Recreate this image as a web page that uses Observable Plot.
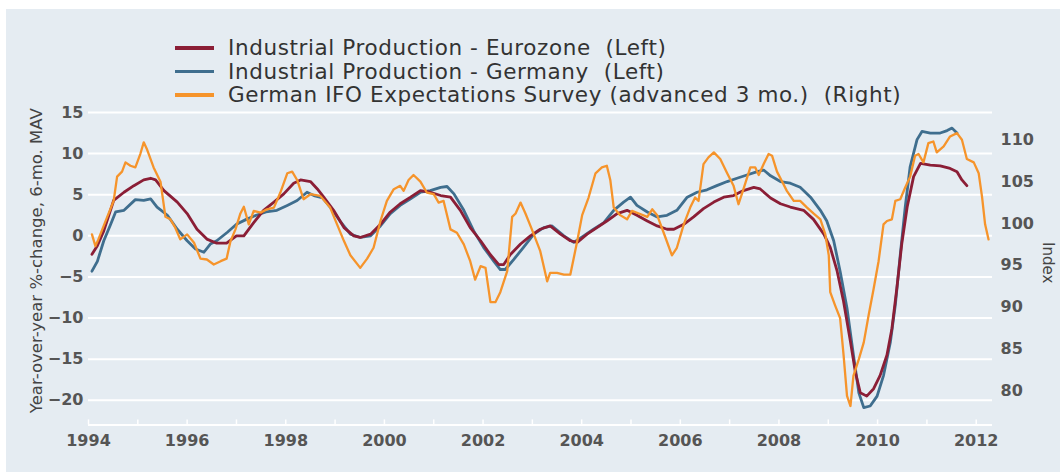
<!DOCTYPE html>
<html><head><meta charset="utf-8">
<script src="https://cdn.jsdelivr.net/npm/d3@7"></script>
<script src="https://cdn.jsdelivr.net/npm/@observablehq/plot@0.6"></script>
<style>
html,body{margin:0;padding:0;background:#fff;}
#wrap{position:relative;width:1060px;height:475px;overflow:hidden;font-family:"DejaVu Sans",sans-serif;}
#panel{position:absolute;left:6px;top:9px;right:0;bottom:3px;background:#e5ecf2;}
#legend{position:absolute;left:175px;top:36px;}
.row{display:flex;align-items:center;height:23.5px;}
.sw{width:39px;height:3.5px;margin-right:14px;}
.lbl{font-size:21.5px;letter-spacing:0.6px;color:#333;white-space:pre;}
#chart{position:absolute;left:0;top:104px;}
</style></head>
<body><div id="wrap"><div id="panel"></div><div id="legend"></div><div id="chart"></div></div>
<script>
// ---- Data (decimal years) ----
const seriesNames = ["Industrial Production - Eurozone  (Left)", "Industrial Production - Germany  (Left)", "German IFO Expectations Survey (advanced 3 mo.)  (Right)"];
const seriesColors = ["#8b1e36", "#3f6e8e", "#f6942b"];

const euroT = [1994.07,1994.18,1994.31,1994.51,1994.72,1994.92,1995.12,1995.26,1995.36,1995.53,1995.8,1996.0,1996.2,1996.4,1996.6,1996.8,1997.0,1997.15,1997.35,1997.55,1997.76,1997.96,1998.16,1998.3,1998.5,1998.64,1998.77,1998.97,1999.18,1999.38,1999.51,1999.72,1999.92,2000.12,2000.32,2000.53,2000.73,2000.93,2001.14,2001.34,2001.54,2001.74,2001.95,2002.15,2002.32,2002.42,2002.55,2002.76,2002.96,2003.16,2003.36,2003.57,2003.77,2003.91,2004.11,2004.31,2004.51,2004.72,2004.92,2005.12,2005.33,2005.53,2005.73,2005.87,2006.07,2006.27,2006.47,2006.68,2006.88,2007.08,2007.28,2007.49,2007.62,2007.83,2008.03,2008.23,2008.5,2008.7,2008.91,2009.04,2009.18,2009.31,2009.45,2009.55,2009.65,2009.78,2009.92,2010.05,2010.19,2010.29,2010.39,2010.49,2010.6,2010.73,2010.87,2011.07,2011.27,2011.47,2011.61,2011.71,2011.81];
const euroV = [-2.25,-1.2,0.6,4.3,5.3,6.1,6.8,7.0,6.8,5.5,4.1,2.7,0.8,-0.4,-0.9,-0.9,0.0,0.0,1.6,3.1,4.1,5.1,6.4,6.8,6.6,5.7,4.7,3.1,1.0,0.0,-0.2,0.2,1.4,2.9,3.9,4.7,5.5,5.3,4.9,4.7,3.1,1.0,-0.6,-2.3,-3.5,-3.5,-2.3,-1.0,0.0,0.8,1.2,0.2,-0.6,-0.8,0.2,1.0,1.8,2.7,3.1,2.5,1.8,1.2,0.8,0.8,1.4,2.3,3.3,4.1,4.7,4.9,5.5,5.9,5.7,4.6,3.9,3.5,3.1,2.0,0.2,-1.4,-4.3,-8.0,-12.9,-16.6,-19.1,-19.5,-18.6,-17.0,-14.5,-11.3,-6.4,-1.0,3.5,7.2,8.8,8.6,8.5,8.2,7.8,6.8,6.1];

const gerT = [1994.07,1994.18,1994.31,1994.45,1994.55,1994.72,1994.95,1995.12,1995.26,1995.39,1995.6,1995.8,1996.0,1996.17,1996.34,1996.47,1996.6,1996.81,1997.0,1997.2,1997.4,1997.6,1997.82,1998.03,1998.23,1998.43,1998.57,1998.75,1998.9,1999.1,1999.31,1999.51,1999.72,1999.92,2000.12,2000.32,2000.53,2000.73,2000.93,2001.14,2001.27,2001.41,2001.61,2001.81,2002.01,2002.22,2002.35,2002.45,2002.62,2002.82,2003.03,2003.23,2003.4,2003.64,2003.84,2004.04,2004.24,2004.45,2004.65,2004.85,2004.99,2005.12,2005.33,2005.53,2005.73,2005.93,2006.14,2006.34,2006.54,2006.74,2006.95,2007.15,2007.35,2007.56,2007.69,2007.83,2008.03,2008.23,2008.43,2008.64,2008.84,2008.97,2009.11,2009.24,2009.38,2009.51,2009.62,2009.72,2009.85,2009.99,2010.12,2010.26,2010.36,2010.46,2010.56,2010.66,2010.8,2010.9,2011.07,2011.27,2011.41,2011.51,2011.61];
const gerV = [-4.3,-3.1,-0.6,1.4,2.9,3.1,4.4,4.3,4.5,3.5,2.5,0.8,-0.6,-1.6,-2.0,-1.0,-0.6,0.4,1.4,2.0,2.5,2.9,3.1,3.7,4.3,5.3,4.9,4.6,3.5,1.8,0.2,-0.2,0.0,1.2,2.7,3.7,4.5,5.3,5.5,5.9,6.0,5.1,3.1,0.6,-1.4,-3.1,-4.1,-4.1,-2.9,-1.4,0.2,1.0,1.2,0.0,-0.8,0.0,0.8,1.6,3.1,4.1,4.7,3.7,2.9,2.3,2.5,3.1,4.7,5.3,5.6,6.1,6.6,7.0,7.4,7.8,8.0,7.3,6.6,6.4,5.9,4.7,3.1,1.8,-0.6,-4.3,-8.8,-14.5,-19.1,-20.9,-20.7,-19.5,-17.0,-12.9,-8.4,-2.3,3.5,8.4,11.7,12.7,12.5,12.5,12.8,13.1,12.5];

const ifoT = [1994.07,1994.14,1994.2,1994.38,1994.51,1994.58,1994.68,1994.75,1994.85,1994.95,1995.05,1995.12,1995.19,1995.32,1995.46,1995.56,1995.66,1995.76,1995.86,1996.0,1996.14,1996.27,1996.4,1996.54,1996.68,1996.8,1996.88,1996.98,1997.08,1997.15,1997.25,1997.35,1997.49,1997.62,1997.76,1997.89,1998.03,1998.13,1998.23,1998.36,1998.5,1998.7,1998.9,1999.04,1999.18,1999.31,1999.51,1999.65,1999.78,1999.92,2000.05,2000.19,2000.32,2000.39,2000.49,2000.59,2000.73,2000.86,2001.0,2001.1,2001.2,2001.34,2001.47,2001.61,2001.74,2001.84,2001.95,2002.05,2002.15,2002.25,2002.35,2002.49,2002.59,2002.66,2002.76,2002.86,2002.99,2003.16,2003.3,2003.36,2003.5,2003.64,2003.77,2003.91,2004.01,2004.14,2004.28,2004.41,2004.51,2004.58,2004.65,2004.78,2004.92,2005.02,2005.16,2005.33,2005.43,2005.53,2005.7,2005.83,2005.93,2006.07,2006.2,2006.3,2006.37,2006.47,2006.57,2006.68,2006.81,2006.95,2007.08,2007.18,2007.28,2007.42,2007.52,2007.59,2007.69,2007.79,2007.86,2007.96,2008.03,2008.16,2008.3,2008.43,2008.57,2008.7,2008.84,2008.94,2009.01,2009.04,2009.14,2009.24,2009.31,2009.38,2009.45,2009.51,2009.62,2009.72,2009.82,2009.92,2010.02,2010.12,2010.19,2010.29,2010.36,2010.46,2010.56,2010.66,2010.76,2010.83,2010.93,2011.03,2011.13,2011.2,2011.34,2011.47,2011.61,2011.71,2011.81,2011.95,2012.05,2012.12,2012.18,2012.25];
const ifoV = [98.7,97.3,98.1,100.8,102.7,105.6,106.2,107.3,106.9,106.7,108.3,109.7,108.8,106.7,105.0,100.8,100.5,99.5,98.1,98.7,97.7,95.8,95.7,95.1,95.5,95.8,97.9,99.3,101.2,102.0,99.9,101.5,101.3,101.7,101.9,103.7,106.0,106.2,105.2,102.9,103.5,103.3,101.9,99.9,97.9,96.2,94.7,95.8,97.1,100.3,102.7,104.1,104.5,103.9,105.2,105.8,105.0,103.7,103.5,102.5,102.7,99.3,98.9,97.5,95.5,93.3,94.9,94.7,90.6,90.6,91.8,94.3,100.8,101.2,102.5,101.2,99.3,96.7,93.1,94.1,94.1,93.9,93.9,97.9,101.0,103.1,106.0,106.7,106.9,105.2,101.9,101.0,100.5,101.5,101.2,100.8,101.7,101.0,98.3,96.2,97.1,99.9,101.9,103.1,102.7,107.1,107.9,108.5,107.7,106.0,104.5,102.3,104.1,106.7,106.7,105.8,107.1,108.3,108.1,106.2,105.4,103.9,102.7,102.7,101.9,101.2,100.5,98.7,96.2,91.8,90.2,88.7,84.3,79.4,78.2,81.8,83.8,85.8,89.1,92.2,95.5,99.9,100.3,100.5,102.7,102.9,104.3,105.6,108.1,108.3,107.3,109.6,109.8,108.5,109.2,110.4,110.8,110.0,107.7,107.3,106.0,103.1,99.9,98.1];

const leftTicks = [-20,-15,-10,-5,0,5,10,15];
const rightTicks = [80,85,90,95,100,105,110];
const yearLabels = [1994,1996,1998,2000,2002,2004,2006,2008,2010,2012];
const yearTicks = [1994,1995,1996,1997,1998,1999,2000,2001,2002,2003,2004,2005,2006,2007,2008,2009,2010,2011,2012];
const xDomain = [1994, 2012.33];
const yDomain = [-23, 15];
const leftTitle = "Year-over-year %-change, 6-mo. MAV";
const rightTitle = "Index";

// right-axis (index) to left-axis units
const ifoOffset = 98.53, ifoScale = 0.982;
const toLeft = r => (r - ifoOffset) / ifoScale;
const toRight = l => l * ifoScale + ifoOffset;

const euro = euroT.map((t, i) => ({t, v: euroV[i]}));
const ger = gerT.map((t, i) => ({t, v: gerV[i]}));
const ifo = ifoT.map((t, i) => ({t, v: toLeft(ifoV[i])}));

// legend
const legend = document.getElementById("legend");
seriesNames.forEach((n, i) => {
  const row = document.createElement("div"); row.className = "row";
  const sw = document.createElement("div"); sw.className = "sw"; sw.style.background = seriesColors[i];
  const lb = document.createElement("span"); lb.className = "lbl"; lb.textContent = n;
  row.append(sw, lb); legend.append(row);
});

const tickFont = {fontSize: 16, fontWeight: "bold", fill: "#555"};
const chart = Plot.plot({
  width: 1060, height: 371,
  marginLeft: 88, marginRight: 68, marginTop: 8, marginBottom: 50.6,
  style: {background: "transparent", fontFamily: "DejaVu Sans", overflow: "visible"},
  x: {domain: xDomain, label: null},
  y: {domain: yDomain, label: null},
  marks: [
    Plot.gridY(leftTicks, {stroke: "#fff", strokeOpacity: 1, strokeWidth: 2}),
    Plot.ruleY([yDomain[0]], {stroke: "#fff", strokeWidth: 2}),
    Plot.axisX(yearTicks, {tickSize: 5, dy: -5, stroke: "#fff", strokeWidth: 1.5, tickFormat: () => ""}),
    Plot.axisX(yearLabels, {tickSize: 0, tickPadding: 10, tickFormat: "d", ...tickFont, label: null}),
    Plot.axisY(leftTicks, {anchor: "left", tickSize: 0, tickPadding: 5, ...tickFont, label: null}),
    Plot.axisY(rightTicks.map(toLeft), {anchor: "right", tickSize: 0, tickPadding: 8, tickFormat: d => String(Math.round(toRight(d))), ...tickFont, label: null}),
    Plot.text([leftTitle], {frameAnchor: "left", textAnchor: "middle", rotate: -90, dx: -52, dy: -8, fontSize: 16.5, fill: "#444"}),
    Plot.text([rightTitle], {frameAnchor: "right", textAnchor: "middle", rotate: 90, dx: 55, dy: -6, fontSize: 15, fill: "#444"}),
    Plot.line(ger, {x: "t", y: "v", stroke: seriesColors[1], strokeWidth: 2.8}),
    Plot.line(euro, {x: "t", y: "v", stroke: seriesColors[0], strokeWidth: 2.8}),
    Plot.line(ifo, {x: "t", y: "v", stroke: seriesColors[2], strokeWidth: 2.3})
  ]
});
document.getElementById("chart").append(chart);
</script>
</body></html>
